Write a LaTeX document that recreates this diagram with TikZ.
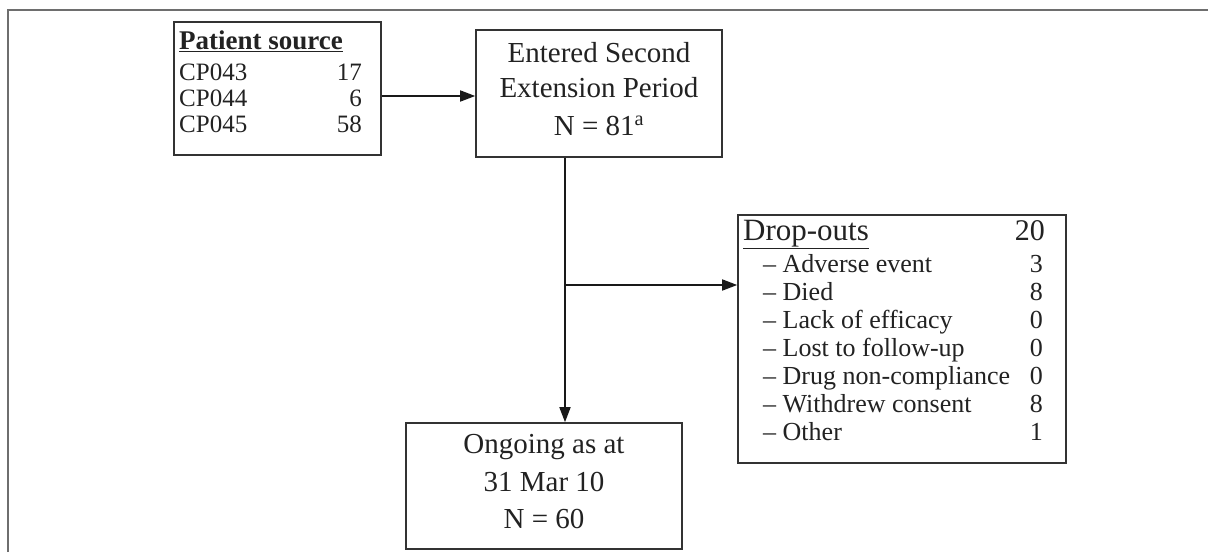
\documentclass[tikz,border=0pt]{standalone}
\usepackage{fontspec}
\setmainfont{Liberation Serif}
\usetikzlibrary{arrows.meta,calc}
\definecolor{ink}{HTML}{222222}
\definecolor{boxline}{HTML}{333333}
\definecolor{frameline}{HTML}{6E6E6E}
\begin{document}
\begin{tikzpicture}[x=1pt,y=-1pt,
  box/.style={draw=boxline,line width=1.6pt,rectangle,inner sep=0pt,fill=white},
  txt/.style={inner sep=0pt,text=ink},
  arr/.style={draw=black!90,line width=1.7pt,-{Triangle[length=15pt,width=11pt]}},
  psrc/.style={txt,font=\fontsize{25}{26}\selectfont},
  big/.style={txt,font=\fontsize{29}{37}\selectfont},
  drp/.style={txt,font=\fontsize{26}{28}\selectfont}]
\useasboundingbox (0,0) rectangle (1208,552);
\fill[white] (0,0) rectangle (1208,552);
% outer frame (top and left)
\draw[frameline,line width=1.4pt] (8,552) -- (8,10) -- (1208,10);

% boxes
\node[box,minimum width=207pt,minimum height=133pt] (patient) at (277.5,88.5) {};
\node[box,minimum width=246pt,minimum height=127pt] (entered) at (599,93.5) {};
\node[box,minimum width=328pt,minimum height=248pt] (drop) at (902,339) {};
\node[box,minimum width=276pt,minimum height=126pt] (ongoing) at (544,486) {};

% patient source text
\node[txt,anchor=base west,font=\bfseries\fontsize{27}{28}\selectfont] (pshead) at (179,49) {\underline{Patient source}};
\node[psrc,anchor=base west] (p1) at (179,80) {CP043};
\node[psrc,anchor=base east] (p1n) at (362,80) {17};
\node[psrc,anchor=base west] (p2) at (179,106) {CP044};
\node[psrc,anchor=base east] (p2n) at (362,106) {6};
\node[psrc,anchor=base west] (p3) at (179,132) {CP045};
\node[psrc,anchor=base east] (p3n) at (362,132) {58};

% entered text
\node[big,anchor=base] (e1) at (599,62) {Entered Second};
\node[big,anchor=base] (e2) at (599,97) {Extension Period};
\node[big,anchor=base] (e3) at (599,135) {N = 81\textsuperscript{a}};

% ongoing text
\node[big,anchor=base] (o1) at (544,453) {Ongoing as at};
\node[big,anchor=base] (o2) at (544,491) {31 Mar 10};
\node[big,anchor=base] (o3) at (544,528) {N = 60};

% drop-outs text
\node[txt,anchor=base west,font=\fontsize{31}{32}\selectfont] (dhead) at (743,240) {\underline{Drop-outs}};
\node[txt,anchor=base east,font=\fontsize{30}{32}\selectfont] (dheadn) at (1045,240) {20};
\node[drp,anchor=base west] (d1) at (763,272) {– Adverse event};
\node[drp,anchor=base east] (d1n) at (1043,272) {3};
\node[drp,anchor=base west] (d2) at (763,300) {– Died};
\node[drp,anchor=base east] (d2n) at (1043,300) {8};
\node[drp,anchor=base west] (d3) at (763,328) {– Lack of efficacy};
\node[drp,anchor=base east] (d3n) at (1043,328) {0};
\node[drp,anchor=base west] (d4) at (763,356) {– Lost to follow-up};
\node[drp,anchor=base east] (d4n) at (1043,356) {0};
\node[drp,anchor=base west] (d5) at (763,384) {– Drug non-compliance};
\node[drp,anchor=base east] (d5n) at (1043,384) {0};
\node[drp,anchor=base west] (d6) at (763,412) {– Withdrew consent};
\node[drp,anchor=base east] (d6n) at (1043,412) {8};
\node[drp,anchor=base west] (d7) at (763,440) {– Other};
\node[drp,anchor=base east] (d7n) at (1043,440) {1};

% connectors
\coordinate (junc) at (565,285);
\draw[arr] ([yshift=-7.5pt]patient.east) -- ([yshift=-7.5pt]patient.east -| entered.west);
\draw[arr] (entered.south -| junc) -- (ongoing.north -| junc);
\draw[arr] (junc) -- (junc -| drop.west);
\end{tikzpicture}
\end{document}
